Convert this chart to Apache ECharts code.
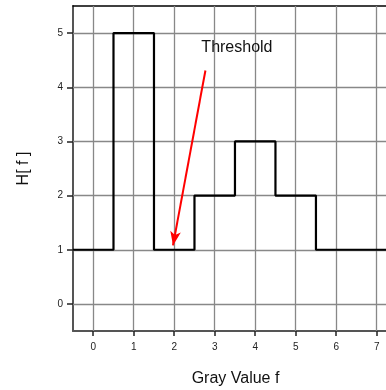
<!DOCTYPE html>
<html>
<head>
<meta charset="utf-8">
<script src="https://cdn.jsdelivr.net/npm/echarts@6/dist/echarts.min.js"></script>
<style>
  html, body { margin: 0; padding: 0; background: #fff; }
  #chart { width: 386px; height: 390px; }
</style>
</head>
<body>
<div id="chart"></div>
<script>
// gray levels and histogram counts
var grayValues = [0, 1, 2, 3, 4, 5, 6, 7];
var counts = [1, 5, 1, 2, 3, 2, 1, 1];
var yTicks = [0, 1, 2, 3, 4, 5];
// threshold arrow: from label area down to f = 2
var arrowFrom = [2.77, 4.31];
var arrowTo = [1.97, 1.08];
var thresholdLabel = 'Threshold';
var thresholdPos = [2.67, 4.73];

var stepData = [[-0.5, counts[0]]];
grayValues.forEach(function (g, i) {
    stepData.push([g, counts[i]]);
});
stepData.push([7.5, counts[counts.length - 1]]);

var font = 'Liberation Sans, Arial, sans-serif';
var myChart = echarts.init(document.getElementById('chart'));
var option = {
    animation: false,
    grid: { left: 73, right: 0, top: 6, bottom: 59, containLabel: false, outerBoundsMode: 'none' },
    xAxis: [{
        type: 'value',
        min: -0.5,
        max: 7.23,
        position: 'bottom',
        name: 'Gray Value f',
        nameLocation: 'middle',
        nameGap: 40,
        nameTextStyle: { fontFamily: font, fontSize: 16, color: '#111', padding: [0, 0, 0, 12] },
        axisLine: { show: true, onZero: false, lineStyle: { color: '#555', width: 2 } },
        axisTick: { show: true, length: 5, lineStyle: { color: '#222', width: 1.5 }, customValues: grayValues },
        axisLabel: { fontFamily: font, fontSize: 10, color: '#222', margin: 11, customValues: grayValues },
        splitLine: { show: false }
    }, {
        type: 'value',
        min: -0.5,
        max: 7.23,
        position: 'top',
        axisLine: { show: true, onZero: false, lineStyle: { color: '#000', width: 1.5 } },
        axisTick: { show: false },
        axisLabel: { show: false },
        splitLine: { show: false }
    }],
    yAxis: {
        type: 'value',
        min: -0.5,
        max: 5.5,
        name: 'H[ f ]',
        nameLocation: 'middle',
        nameGap: 41,
        nameRotate: 90,
        nameTextStyle: { fontFamily: font, fontSize: 16, color: '#111' },
        axisLine: { show: true, onZero: false, lineStyle: { color: '#555', width: 2 } },
        axisTick: { show: true, length: 6, lineStyle: { color: '#222', width: 1.5 }, customValues: yTicks },
        axisLabel: { fontFamily: font, fontSize: 10, color: '#222', margin: 10, customValues: yTicks },
        splitLine: { show: false }
    },
    series: [{
        // grid lines at each gray level and count
        type: 'line',
        data: [],
        markLine: {
            silent: true,
            symbol: 'none',
            label: { show: false },
            lineStyle: { color: '#888', width: 1.3, type: 'solid' },
            data: grayValues.map(function (g) { return { xAxis: g }; })
                .concat(yTicks.map(function (t) { return { yAxis: t }; }))
        }
    }, {
        type: 'line',
        step: 'middle',
        data: stepData,
        symbol: 'none',
        lineStyle: { color: '#000', width: 2.2 },
        z: 5
    }, {
        type: 'line',
        data: [],
        z: 6,
        markLine: {
            silent: true,
            symbol: ['none', 'arrow'],
            symbolSize: [8, 14],
            label: { show: false },
            lineStyle: { color: '#ff0000', width: 2, type: 'solid' },
            data: [[{ coord: arrowFrom }, { coord: arrowTo }]]
        }
    }]
};
myChart.setOption(option);

var p = myChart.convertToPixel({ xAxisIndex: 0, yAxisIndex: 0 }, thresholdPos);
myChart.setOption({
    graphic: [{
        type: 'text',
        x: p[0],
        y: p[1],
        z: 10,
        style: {
            text: thresholdLabel,
            font: '16px ' + font,
            fill: '#111',
            textVerticalAlign: 'middle'
        }
    }]
});
</script>
</body>
</html>
